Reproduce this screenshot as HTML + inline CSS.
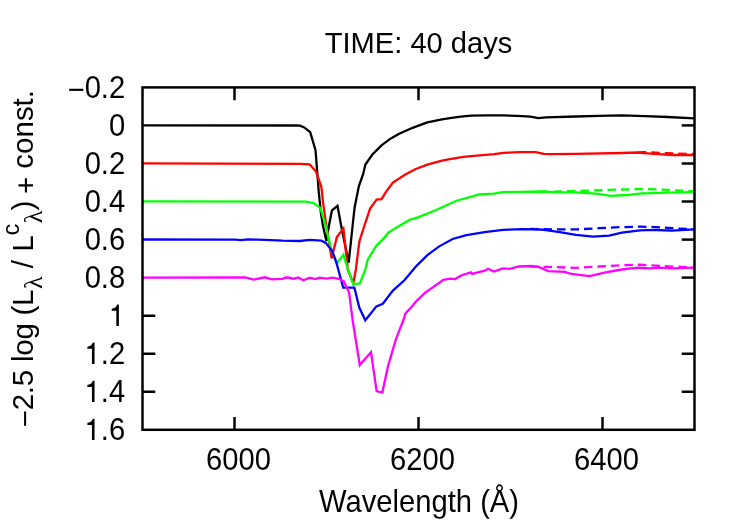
<!DOCTYPE html>
<html><head><meta charset="utf-8"><title>TIME: 40 days</title>
<style>
html,body{margin:0;padding:0;background:#fff;}
svg{display:block;}
text{font-family:"Liberation Sans",sans-serif;font-size:29.2px;fill:#000;}
.ss{font-size:23.4px;}
.sy{font-size:26px;font-family:"Liberation Serif",serif;}
</style></head>
<body>
<svg width="747" height="523" viewBox="0 0 747 523">
<rect width="747" height="523" fill="#fff"/>
<g opacity="0.996">
<g fill="none" stroke="#000" stroke-width="2.5">
<path d="M694.5,125.4h-12.8"/>
<path d="M694.5,163.5h-12.8"/>
<path d="M694.5,201.5h-12.8"/>
<path d="M694.5,239.6h-12.8"/>
<path d="M694.5,277.6h-12.8"/>
<path d="M142.5,315.7h12.8M694.5,315.7h-12.8"/>
<path d="M142.5,353.7h12.8M694.5,353.7h-12.8"/>
<path d="M142.5,391.8h12.8M694.5,391.8h-12.8"/>
<path d="M234.5,429.8v-12.8M234.5,87.4v12.8"/>
<path d="M418.5,429.8v-12.8M418.5,87.4v12.8"/>
<path d="M602.5,429.8v-12.8M602.5,87.4v12.8"/>
</g>
<g fill="none" stroke-width="2.3" stroke-linejoin="miter" stroke-linecap="butt">
<polyline stroke="#000" points="143.0,125.4 296.0,125.5 300.0,125.7 304.3,127.4 310.2,132.2 315.5,150.1 317.1,170.0 318.7,191.4 320.9,212.8 323.0,226.0 326.4,241.0 328.9,226.0 331.9,210.5 337.5,205.9 341.2,226.0 348.7,262.7 353.0,222.0 354.6,207.5 358.9,186.1 363.2,174.0 365.4,164.6 372.4,154.5 381.8,145.2 389.8,139.1 399.2,133.8 412.6,127.8 427.3,122.4 442.0,119.3 450.0,118.2 460.7,116.7 471.4,115.7 487.5,115.4 503.5,115.4 522.3,116.1 530.3,116.7 538.4,118.2 546.0,117.4 575.9,116.5 598.8,115.8 621.8,115.4 644.7,116.1 667.6,117.0 694.5,118.4"/>
<polyline stroke="#f00" points="143.0,163.4 300.0,163.8 309.6,164.3 316.0,171.5 321.4,187.1 323.0,202.1 325.7,221.4 331.6,258.4 336.9,237.0 343.4,228.4 347.9,270.0 353.3,283.2 355.8,270.0 359.4,241.3 364.3,226.0 370.1,208.6 376.6,199.5 381.5,199.1 386.0,191.8 392.9,182.6 404.5,175.0 415.2,169.3 427.3,164.6 442.0,160.6 450.0,159.2 463.4,156.9 476.8,155.6 494.2,154.2 503.5,152.9 519.6,152.2 535.7,152.2 543.7,153.8 550.0,154.2 575.9,153.9 621.8,153.0 637.8,152.5 653.9,153.9 672.2,155.0 694.5,155.0"/>
<polyline stroke="#f00" stroke-dasharray="8.5,5" points="637.8,152.5 644.7,152.1 667.6,153.2 694.5,154.1"/>
<polyline stroke="#0f0" points="143.0,201.3 306.4,201.6 313.9,203.2 320.3,208.0 322.5,215.0 325.7,226.0 331.0,248.8 336.9,263.2 343.4,254.7 347.1,267.0 353.4,284.5 359.8,283.4 365.2,270.0 367.6,259.9 376.0,246.2 382.3,239.9 388.6,232.5 397.0,227.3 409.6,219.9 418.0,217.4 434.9,210.5 455.9,201.0 475.0,195.6 479.0,194.5 493.9,193.6 503.0,192.2 521.4,191.8 540.0,191.5 553.0,192.2 575.9,192.4 596.0,193.6 610.5,195.9 628.0,195.0 642.0,193.4 667.6,192.7 694.5,192.2"/>
<polyline stroke="#0f0" stroke-dasharray="8.5,5" points="540.0,191.6 553.0,191.6 587.4,190.6 621.8,189.5 644.7,189.0 667.6,189.9 694.5,191.3"/>
<polyline stroke="#00f" points="143.0,239.5 235.0,239.6 241.0,240.1 247.8,239.3 265.0,239.8 282.2,240.6 300.0,241.0 309.6,239.9 321.4,240.7 325.7,242.9 332.1,250.9 336.4,262.7 343.2,287.7 354.4,287.7 359.3,307.5 365.3,320.3 376.4,306.4 382.8,303.7 392.9,290.6 404.4,280.3 415.9,266.5 427.4,255.1 438.8,246.6 452.6,239.0 466.4,235.1 484.7,232.1 503.0,229.8 521.4,229.1 540.0,229.5 543.8,229.8 559.8,232.1 575.9,234.9 593.1,236.7 609.1,235.6 621.8,232.6 640.1,230.3 656.2,230.0 672.2,230.7 694.5,229.4"/>
<polyline stroke="#00f" stroke-dasharray="8.5,5" points="530.0,228.9 553.0,229.4 576.0,229.4 598.8,228.2 621.8,227.1 640.0,226.6 656.2,227.1 672.2,228.2 694.5,229.4"/>
<polyline stroke="#f0f" points="143.0,277.7 245.5,277.5 253.6,279.6 265.0,277.3 271.9,279.4 282.2,278.9 286.8,277.3 293.7,278.7 298.3,277.5 303.3,280.3 310.0,277.6 315.4,279.1 319.6,277.7 326.6,278.6 332.5,277.7 338.9,278.8 343.7,281.2 349.1,292.5 352.6,320.0 359.8,365.1 371.0,352.1 376.6,391.1 382.3,392.6 388.1,365.9 395.7,339.9 403.4,320.0 405.5,313.4 411.3,307.3 416.2,301.2 425.0,292.9 443.4,279.8 450.3,278.7 454.9,279.1 461.8,275.2 470.9,272.3 472.0,273.9 484.7,270.7 488.1,268.8 493.9,271.6 503.0,268.4 510.0,268.8 519.0,266.5 530.6,266.0 539.2,267.2 548.4,271.1 564.4,271.8 571.3,273.9 589.6,276.2 605.7,272.3 621.8,269.5 637.8,267.7 649.3,268.4 658.5,267.7 672.2,268.4 694.5,267.7"/>
<polyline stroke="#f0f" stroke-dasharray="8.5,5" points="530.0,266.5 553.0,267.0 575.9,267.9 598.8,266.5 621.8,265.2 640.0,264.7 663.0,266.1 694.5,267.4"/>
</g>
<rect x="142.5" y="87.4" width="552.0" height="342.4" fill="none" stroke="#000" stroke-width="2.5"/>
<text transform="translate(418.5,52.6) scale(0.958,1)" style="font-size:30.4px" text-anchor="middle">TIME: 40 days</text>
<text transform="translate(125.2,97.6) scale(0.9416,1)" style="font-size:31.0px" text-anchor="end"><tspan dy="2.8">−</tspan><tspan dy="-2.8">0.2</tspan></text>
<text transform="translate(125.2,135.6) scale(0.9416,1)" style="font-size:31.0px" text-anchor="end">0</text>
<text transform="translate(125.2,173.7) scale(0.9416,1)" style="font-size:31.0px" text-anchor="end">0.2</text>
<text transform="translate(125.2,211.7) scale(0.9416,1)" style="font-size:31.0px" text-anchor="end">0.4</text>
<text transform="translate(125.2,249.8) scale(0.9416,1)" style="font-size:31.0px" text-anchor="end">0.6</text>
<text transform="translate(125.2,287.8) scale(0.9416,1)" style="font-size:31.0px" text-anchor="end">0.8</text>
<path d="M696,0L515,0L515,995L194,995L194,1140C380,1150 520,1230 575,1409L696,1409Z" transform="translate(108.97,325.9) scale(0.01425,-0.01514)"/>
<path d="M696,0L515,0L515,995L194,995L194,1140C380,1150 520,1230 575,1409L696,1409Z" transform="translate(84.62,363.9) scale(0.01425,-0.01514)"/>
<text transform="translate(125.2,363.9) scale(0.9416,1)" style="font-size:31.0px" text-anchor="end">.2</text>
<path d="M696,0L515,0L515,995L194,995L194,1140C380,1150 520,1230 575,1409L696,1409Z" transform="translate(84.62,402.0) scale(0.01425,-0.01514)"/>
<text transform="translate(125.2,402.0) scale(0.9416,1)" style="font-size:31.0px" text-anchor="end">.4</text>
<path d="M696,0L515,0L515,995L194,995L194,1140C380,1150 520,1230 575,1409L696,1409Z" transform="translate(84.62,440.0) scale(0.01425,-0.01514)"/>
<text transform="translate(125.2,440.0) scale(0.9416,1)" style="font-size:31.0px" text-anchor="end">.6</text>
<text transform="translate(238.4,469.6) scale(0.918,1)" style="font-size:31.8px" text-anchor="middle">6000</text>
<text transform="translate(422.4,469.6) scale(0.918,1)" style="font-size:31.8px" text-anchor="middle">6200</text>
<text transform="translate(606.4,469.6) scale(0.918,1)" style="font-size:31.8px" text-anchor="middle">6400</text>
<text transform="translate(419,511.8) scale(0.948,1)" style="font-size:30.8px" text-anchor="middle">Wavelength (Å)</text>
<g transform="translate(32.8,427.6) rotate(-90) scale(1.01,1)">
<text x="0" y="0"><tspan dy="2.6">−</tspan><tspan dy="-2.6" style="letter-spacing:-0.22px">2.5 log (L</tspan><tspan class="sy" dy="8.7" dx="0.6">λ</tspan><tspan dy="-8.7"> / L</tspan><tspan class="ss" dy="-14">c</tspan><tspan class="sy" dy="22.7" dx="0.3">λ</tspan><tspan dy="-8.7">) </tspan><tspan dy="3" dx="-1.5">+</tspan><tspan dy="-3"> const.</tspan></text>
</g>
</g>
</svg>
</body></html>
